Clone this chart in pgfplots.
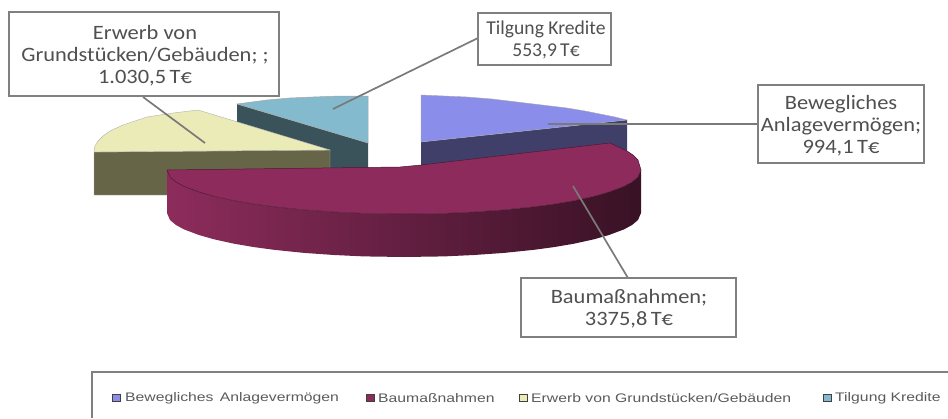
\documentclass[border=0pt]{standalone}
\usepackage{pgfplots}
\pgfplotsset{compat=1.18}
\usepackage{fontspec}
\setmainfont[FakeStretch=1.1]{Carlito}
\newfontfamily\tilgfont{Carlito}
\newfontfamily\legfont[FakeStretch=1.27]{Liberation Sans}
\definecolor{bluetop}{HTML}{8B8DEA}
\definecolor{blueside}{HTML}{3F3F69}
\definecolor{martop}{HTML}{8D2C5C}
\definecolor{yeltop}{HTML}{EAEBB6}
\definecolor{yelside}{HTML}{666548}
\definecolor{teatop}{HTML}{84BACD}
\definecolor{teaside}{HTML}{3A535B}
\definecolor{leader}{HTML}{7A7A7A}
\definecolor{boxline}{HTML}{808080}
\definecolor{txt}{HTML}{505050}
\definecolor{legtxt}{HTML}{5A5A5A}
\begin{document}
\begin{tikzpicture}
\useasboundingbox (0,0) rectangle (948pt,418pt);
\begin{axis}[
  at={(0,0)}, anchor=south west,
  scale only axis, width=948pt, height=418pt,
  xmin=0, xmax=948, ymin=0, ymax=418, y dir=reverse,
  hide axis, clip=true,
]
% Tilgung Kredite
\addplot[fill=teaside,draw=none] coordinates {(237,104)(368,143)(368,190)(237,150)} --cycle;
\addplot[fill=teatop,draw=black!35,line width=0.5pt] coordinates {(237,104)(252,102)(267,100)(290,98)(313,97)(340,96)(368,96)(368,143)} --cycle;
% Erwerb
\addplot[fill=yelside,draw=black!35,line width=0.4pt] coordinates {(94,152)(330,150)(330,195)(94,195)} --cycle;
\addplot[fill=yeltop,draw=black!30,line width=0.4pt] coordinates {(94,151)(95,146)(98,141)(103,136)(110,131)(123,125)(135,121)(147,117)(160,115)(173,113)(198,110)(330,150)(94,152)} --cycle;
% Bewegliches
\addplot[fill=blueside,draw=none] coordinates {(421,142)(627,120)(627,160)(421,180)} --cycle;
\addplot[fill=bluetop,draw=black!35,line width=0.4pt] coordinates {(421,95)(444,96)(467,97)(492,99)(517,102)(542,105)(567,108)(585,111)(600,114)(615,117)(627,120)(421,142)} --cycle;
% Baumassnahmen side
\addplot[left color=martop,middle color=martop!72!black,right color=martop!40!black,draw=none] coordinates {
 (167,170)(170,177)(176,182)(184,186.4)(199,192)(214,196.3)(234,200.7)(254,204.1)(274,206.8)(304,209.9)(334,212)(364,213.4)(404,214)(444,213.4)(474,212)(504,209.9)(534,206.8)(554,204.1)(574,200.7)(594,196.3)(609,192)(624,186.4)(632,182)(638,177)(641,170)
 (641,213)(638,220)(632,225)(624,229.4)(609,235)(594,239.3)(574,243.7)(554,247.1)(534,249.8)(504,252.9)(474,255)(444,256.4)(404,257)(364,256.4)(334,255)(304,252.9)(274,249.8)(254,247.1)(234,243.7)(214,239.3)(199,235)(184,229.4)(176,225)(170,220)(167,213)} --cycle;
% Baumassnahmen top
\addplot[fill=martop,draw=martop!55!black,line width=0.5pt] coordinates {
 (167,170)(170,177)(176,182)(184,186.4)(199,192)(214,196.3)(234,200.7)(254,204.1)(274,206.8)(304,209.9)(334,212)(364,213.4)(404,214)(444,213.4)(474,212)(504,209.9)(534,206.8)(554,204.1)(574,200.7)(594,196.3)(609,192)(624,186.4)(632,182)(638,177)(641,170)(638,160)(633,155)(627,151)(610,143)(421,165)(400,167)} --cycle;
% leaders
\addplot[leader,line width=1.7pt] coordinates {(143,97)(205,143)};
\addplot[leader,line width=1.7pt] coordinates {(478,38)(333,109)};
\addplot[leader,line width=1.7pt] coordinates {(548,124)(758,124)};
\addplot[leader,line width=1.7pt] coordinates {(573,186)(628,278)};
% boxes
\addplot[fill=white,draw=boxline,line width=1.5pt] coordinates {(9,12)(279,12)(279,96)(9,96)} --cycle;
\addplot[fill=white,draw=boxline,line width=1.5pt] coordinates {(478,13)(611,13)(611,65)(478,65)} --cycle;
\addplot[fill=white,draw=boxline,line width=1.5pt] coordinates {(758,85)(924,85)(924,163)(758,163)} --cycle;
\addplot[fill=white,draw=boxline,line width=1.5pt] coordinates {(521,278)(736,278)(736,337)(521,337)} --cycle;
% legend frame
\addplot[boxline,line width=1.3pt] coordinates {(92,418)(92,372)(948,372)};
\addplot[fill=bluetop,draw=black!75,line width=1pt] coordinates {(112,394)(120,394)(120,401)(112,401)} --cycle;
\addplot[fill=martop,draw=black!75,line width=1pt] coordinates {(366,394)(374,394)(374,401)(366,401)} --cycle;
\addplot[fill=yeltop,draw=black!75,line width=1pt] coordinates {(519,394)(527,394)(527,401)(519,401)} --cycle;
\addplot[fill=teatop,draw=black!75,line width=1pt] coordinates {(823,394)(831,394)(831,401)(823,401)} --cycle;
% texts
\begin{scope}[every node/.style={align=center,text=txt,inner sep=0pt,font=\fontsize{20.4}{22}\selectfont}]
\node at (axis cs:145,56) {Erwerb von\\Grundstücken/Gebäuden; ;\\1.030,5\,T€};
\node[font=\tilgfont\fontsize{19.6}{22}\selectfont] at (axis cs:546,40) {Tilgung Kredite\\553,9\,T€};
\node at (axis cs:841,126) {Bewegliches\\Anlagevermögen;\\994,1\,T€};
\node at (axis cs:629,309) {Baumaßnahmen;\\3375,8\,T€};
\end{scope}
\begin{scope}[every node/.style={anchor=west,text=legtxt,inner sep=0pt,font=\legfont\fontsize{12.4}{14}\selectfont}]
\node at (axis cs:125,398.5) {Bewegliches\hspace{2pt} Anlagevermögen};
\node at (axis cs:378,398.5) {Baumaßnahmen};
\node at (axis cs:531,398.5) {Erwerb von Grundstücken/Gebäuden};
\node at (axis cs:835,398.5) {Tilgung Kredite};
\end{scope}
\end{axis}
\end{tikzpicture}
\end{document}
